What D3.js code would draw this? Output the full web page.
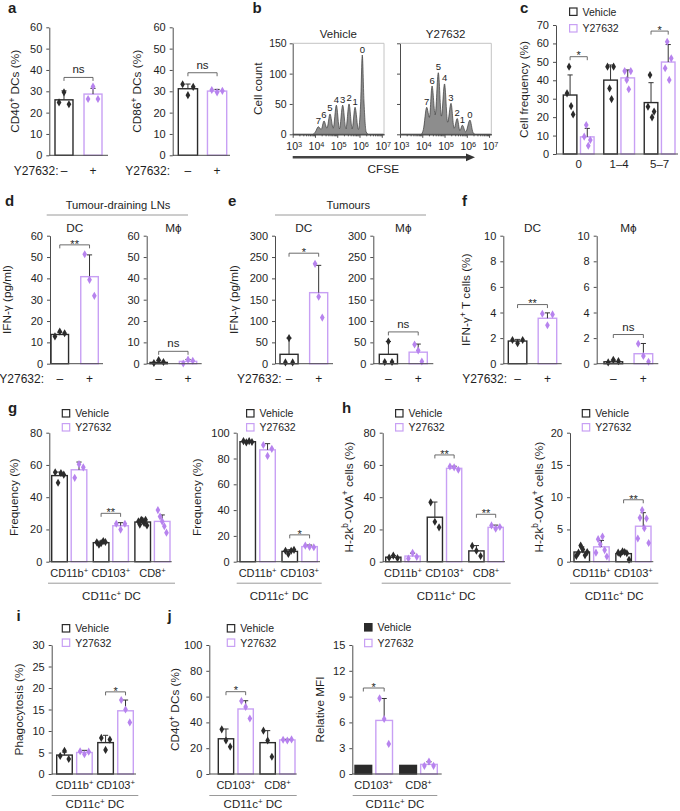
<!DOCTYPE html>
<html>
<head>
<meta charset="utf-8">
<script src="https://cdn.jsdelivr.net/npm/d3@7"></script>
<style>
  body { margin: 0; background: #fff; }
  svg { font-family: "Liberation Sans", Arial, Helvetica, sans-serif; }
</style>
</head>
<body>
<svg id="fig" width="680" height="811"></svg>
<script>
// ---- data ----
// a: CD40+ / CD86+ DCs (%), [vehicle, Y27632]
const a1Mean = [[26, 28.7]], a1Err = [[4.2, 2.7]];
const a1Pts = [[[24.8, 29.5, 23.9], [26.4, 32.2, 26.4]]];
const a1Sig = [[0, 36.5, "ns"]];
const a2Mean = [[31.2, 30.1]], a2Err = [[2.2, 0.8]];
const a2Pts = [[[33.3, 28.2, 32.1], [30.6, 29.5, 30.2]]];
const a2Sig = [[0, 38.7, "ns"]];

// b: CFSE histograms, [log10 CFSE, cell count, division]
const cfseExp = [3, 4, 5, 6, 7];
const vehPeaks = [[4.15, 12.5, "7"], [4.405, 22, "6"], [4.675, 33.5, "5"], [4.96, 48, "4"],
  [5.245, 48, "3"], [5.53, 50, "2"], [5.8, 44.5, "1"], [6.125, 130.7, "0"]];
const vehOutline = [[3, 0], [3.9, 0], [4.02, 4], [4.28, 8], [4.54, 10], [4.82, 10], [5.1, 9],
  [5.39, 9], [5.67, 9], [5.95, 8], [6.05, 50], [6.2, 55], [6.3, 4], [6.4, 0], [7.1, 0]];
const y27Peaks = [[4.2, 44.5, "7"], [4.44, 79.6, "6"], [4.72, 101.5, "5"], [5.0, 83, "4"],
  [5.29, 51, "3"], [5.57, 26, "2"], [5.8, 15, "1"], [6.14, 23.5, "0"]];
const y27Outline = [[3, 0], [3.95, 0], [4.05, 8], [4.32, 28], [4.58, 32], [4.86, 30], [5.14, 20],
  [5.43, 10], [5.69, 6], [5.95, 4], [6.28, 3], [6.38, 0], [7.1, 0]];

// c: cell frequency by division
const cGroups = ["0", "1–4", "5–7"];
const cMean = [[32, 9.3], [40.1, 41.3], [27.9, 49.9]];
const cErr = [[10.9, 4.6], [8.2, 4.3], [10.8, 9.5]];
const cPts = [[[32.9, 47.4, 26, 21.5], [9.4, 15.7, 4.5, 7.6]],
  [[47.4, 35.6, 29.8, 47.4], [45, 40.2, 35.1, 45]],
  [[25.7, 42.9, 19.9, 23], [46.5, 60.9, 40.2, 51.9]]];
const cSig = [[0, 52.8, "*"], [2, 66.7, "*"]];

// d: IFN-γ (pg/ml), tumour-draining LNs
const d1Mean = [[13.7, 40.8]], d1Err = [[1.0, 10.2]];
const d1Pts = [[[12.8, 15.1, 14.3], [51.3, 39.3, 31.8]]];
const d1Sig = [[0, 55.7, "**"]];
const d2Mean = [[0.6, 1.1]], d2Err = [[0.8, 0.9]];
const d2Pts = [[[0.3, 1.7, 0.8], [0.1, 1.9, 1.4]]];
const d2Sig = [[0, 5.8, "ns"]];

// e: IFN-γ (pg/ml), tumours
const e1Mean = [[22, 166.5]], e1Err = [[38, 64]];
const e1Pts = [[[3, 60, 3], [234, 157, 108]]];
const e1Sig = [[0, 259, "*"]];
const e2Mean = [[22, 27]], e2Err = [[30, 19]];
const e2Pts = [[[4, 52, 4], [45, 31, 5]]];
const e2Sig = [[0, 74.5, "ns"]];

// f: IFN-γ+ T cells (%)
const f1Mean = [[1.77, 3.55]], f1Err = [[0.13, 0.42]];
const f1Pts = [[[1.85, 1.6, 1.85], [3.9, 3.0, 3.85]]];
const f1Sig = [[0, 4.62, "**"]];
const f2Mean = [[0.15, 0.78]], f2Err = [[0.12, 0.8]];
const f2Pts = [[[0.1, 0.3, 0.2], [1.56, 0.6, 0.15]]];
const f2Sig = [[0, 2.28, "ns"]];

// g: frequency (%)
const dcGroups3 = ["CD11b^+", "CD103^+", "CD8^+"];
const dcGroups2 = ["CD11b^+", "CD103^+"];
const g1Mean = [[53.4, 57], [11.8, 22.3], [24.6, 25]];
const g1Err = [[2.2, 4.8], [1.0, 1.9], [1.5, 4]];
const g1Pts = [[[55.5, 49, 55, 54], [52, 60.5, 58.5]],
  [[12, 10.5, 11.5, 12.8, 12.2], [23.5, 19.9, 23.5]],
  [[25, 23, 26, 25.5, 24, 26, 22.5], [32, 28, 25, 22, 18]]];
const g1Sig = [[1, 30, "**"]];
const g2Mean = [[93, 86.7], [8, 11.7]];
const g2Err = [[0.6, 4.8], [1.3, 1.2]];
const g2Pts = [[[93.5, 92.5, 93.5, 92.8], [90.5, 82, 87.5]], [[8.5, 6, 8.5, 9.2], [12.5, 11.5, 11.2]]];
const g2Sig = [[1, 20.8, "*"]];

// h: H-2kb-OVA+ cells (%)
const h1Mean = [[2.8, 3.5], [27.6, 57.9], [6.7, 21.3]];
const h1Err = [[1.0, 1.8], [9.4, 1.3], [3.3, 1.4]];
const h1Pts = [[[2.5, 3.8, 2.2], [2, 5.5, 3]],
  [[36.8, 24.8, 21.3], [59, 58.5, 57]],
  [[9.8, 6.8, 3.5], [22.5, 20.5, 21.5]]];
const h1Sig = [[1, 66.2, "**"], [2, 29.4, "**"]];
const h2Mean = [[1.5, 2.3], [1.25, 5.5]];
const h2Err = [[0.8, 1.0], [0.35, 2.1]];
const h2Pts = [[[0.9, 1.4, 2.5, 1.9, 1.0, 1.5], [1.4, 3.5, 2.7, 3.9, 1.8, 0.8]],
  [[1.4, 1.2, 1.6, 1.5, 1.3, 0.3], [3.6, 6.8, 8.0, 5.2, 6.7, 2.9]]];
const h2Sig = [[1, 9.6, "**"]];

// i: phagocytosis (%)
const iMean = [[4.4, 5.0], [7.3, 14.7]];
const iErr = [[0.7, 0.5], [1.7, 2.5]];
const iPts = [[[4.2, 5.4, 3.5], [5.3, 4.6, 5.2]], [[8.4, 5.6, 8.0], [17.2, 15, 12]]];
const iSig = [[1, 19.1, "*"]];

// j: CD40+ DCs (%) and relative MFI
const jGroups = ["CD103^+", "CD8^+"];
const j1Mean = [[27.3, 50.4], [24.3, 26.4]];
const j1Err = [[7.6, 6.4], [9.3, 0.5]];
const j1Pts = [[[34.6, 26, 21.2], [56.6, 52, 43]], [[33.6, 26, 13.4], [26.5, 26, 26.8]]];
const j1Sig = [[0, 63.8, "*"]];
const j2Mean = [[1, 6.23], [1, 1.12]];
const j2Err = [[0, 2.55], [0, 0.3]];
const j2Pts = [[[], [8.8, 6.4, 3.5]], [[], [0.95, 1.45, 0.95]]];
const j2Sig = [[0, 10, "*"]];

// ---- drawing ----
const svg = d3.select("#fig");
const FS = 11, TITLE = 11.8, CAT = 12, GRP = 11;
const INK = "#1e1e1e", AXIS = "#4d4d4d", VEH = "#2b2b2b", Y27 = "#c8a0f4", Y27PT = "#b783ee";
const ERR = "#333", BRK = "#5a5a5a", RULE = "#9a9a9a";
const diamond = d3.symbol().type(d3.symbolDiamond).size(19)();

// "^x" puts x in superscript
function rich(t, str, fs) {
  const sh = fs * 0.36;
  let up = false;
  str.split(/(\^.)/).forEach(p => {
    if (!p) return;
    if (p[0] === "^") {
      t.append("tspan").attr("font-size", fs * 0.7).attr("dy", up ? 0 : -sh).text(p[1]);
      up = true;
    } else {
      t.append("tspan").attr("dy", up ? sh : 0).text(p);
      up = false;
    }
  });
  return t;
}

function label(x, y, str, opts = {}) {
  const fs = opts.fs || FS;
  const t = svg.append("text").attr("x", x).attr("y", y)
    .attr("font-size", fs).attr("fill", INK)
    .attr("text-anchor", opts.anchor || "middle");
  if (opts.weight) t.attr("font-weight", opts.weight);
  return rich(t, str, fs);
}

function yTitle(x, yMid, str) {
  const t = svg.append("text")
    .attr("transform", `translate(${x + TITLE * 0.36},${yMid}) rotate(-90)`)
    .attr("font-size", TITLE).attr("fill", INK).attr("text-anchor", "middle");
  rich(t, str, TITLE);
}

function legend(x, y, gap, filled) {
  [["Vehicle", VEH], ["Y27632", Y27]].forEach(([name, col], i) => {
    const cy = y + i * gap;
    svg.append("rect").attr("x", x + 0.6).attr("y", cy - 3.7)
      .attr("width", 7.4).attr("height", 7.4)
      .attr("fill", filled && i === 0 ? VEH : "#fff")
      .attr("stroke", col).attr("stroke-width", 1.2);
    label(x + 13.5, cy + 3.8, name, { anchor: "start", fs: 10.5 });
  });
}

function styleAxis(ax, fs) {
  ax.attr("font-size", fs || FS).attr("font-family", null);
  ax.selectAll("line,.domain").attr("stroke", AXIS);
  ax.selectAll("text").attr("fill", INK);
}

function barChart(c) {
  const y = d3.scaleLinear().domain([0, c.max]).range([c.bottom, c.top]);
  const gx = d3.scaleBand().domain(d3.range(c.mean.length)).range([c.b0, c.b1]).paddingInner(c.gPad || 0);
  const sx = d3.scaleBand().domain([0, 1]).range([0, gx.bandwidth()]).paddingInner(c.sPad);
  const bw = sx.bandwidth();
  const cx = (gi, si) => gx(gi) + sx(si) + bw / 2;

  styleAxis(svg.append("g").attr("transform", `translate(${c.x0},0)`)
    .call(d3.axisLeft(y).tickValues(c.ticks).tickSize(3).tickSizeOuter(0).tickPadding(4)));

  const marks = svg.append("g");
  c.mean.forEach((row, gi) => row.forEach((m, si) => {
    marks.append("rect").attr("x", gx(gi) + sx(si)).attr("width", bw)
      .attr("y", y(m)).attr("height", y(0) - y(m))
      .attr("fill", c.filled && si === 0 ? VEH : "#fff")
      .attr("stroke", si ? Y27 : VEH).attr("stroke-width", 1.4);
    const e = c.err[gi][si], x = cx(gi, si);
    if (e > 0) {
      marks.append("path")
        .attr("d", `M${x},${y(m)}V${y(m + e)}M${x - 2.6},${y(m + e)}H${x + 2.6}`)
        .attr("stroke", ERR).attr("stroke-width", 1).attr("fill", "none");
    }
    const pts = c.pts[gi][si], n = pts.length;
    pts.forEach((v, k) => {
      const off = n > 1 ? (k / (n - 1) - 0.5) * bw * (c.spread || 0.55) : 0;
      marks.append("path").attr("d", diamond)
        .attr("transform", `translate(${x + off},${y(v)})`)
        .attr("fill", si ? Y27PT : VEH);
    });
  }));

  svg.append("line").attr("x1", c.x0).attr("x2", c.x1)
    .attr("y1", c.bottom).attr("y2", c.bottom).attr("stroke", AXIS);

  (c.sig || []).forEach(([gi, lv, txt]) => {
    const x1 = cx(gi, 0), x2 = cx(gi, 1), yy = y(lv);
    svg.append("path").attr("d", `M${x1},${yy + 3.5}V${yy}H${x2}V${yy + 3.5}`)
      .attr("fill", "none").attr("stroke", BRK).attr("stroke-width", 0.9);
    label((x1 + x2) / 2, txt === "ns" ? yy - 4 : yy + 2.8, txt, { fs: txt === "ns" ? 11.5 : 11 });
  });

  if (c.treat) {
    label(cx(0, 0), c.bottom + 19.4, "–", { fs: CAT });
    label(cx(0, 1), c.bottom + 19.4, "+", { fs: CAT });
    if (c.treatX) label(c.treatX, c.bottom + 19.4, "Y27632:", { anchor: "end", fs: CAT });
  }
  if (c.groups) {
    c.groups.forEach((gname, gi) =>
      label(gx(gi) + gx.bandwidth() / 2, c.bottom + (c.groupDy || 15.3), gname, { fs: c.groupFs || GRP }));
  }
  if (c.rule) {
    svg.append("line").attr("x1", c.rule[0]).attr("x2", c.rule[1])
      .attr("y1", c.bottom + 21.5).attr("y2", c.bottom + 21.5).attr("stroke", RULE);
    label((c.rule[0] + c.rule[1]) / 2, c.bottom + (c.titleDy || 38), "CD11c^+ DC", { fs: 11.5 });
  }
  if (c.head) label((c.b0 + c.b1) / 2, c.headY, c.head, { fs: 11.8 });
  if (c.yLabel) yTitle(c.yLabelX, (c.top + c.bottom) / 2, c.yLabel);
}

function cfsePanel(x0, title, peaks, outline, showY) {
  const w = 91.3, top = 43.3, bottom = 134.3;
  const x = d3.scaleLog().domain([1e3, 10 ** 7.1]).range([x0, x0 + w]);
  const y = d3.scaleLinear().domain([0, 150]).range([bottom, top]);
  const pts = outline.concat(peaks.map(p => [p[0], p[1]])).sort((p, q) => p[0] - q[0]);
  const area = d3.area().x(d => x(10 ** d[0])).y0(bottom).y1(d => y(d[1])).curve(d3.curveMonotoneX);
  svg.append("path").datum(pts).attr("d", area)
    .attr("fill", "#8d8d8d").attr("stroke", "#3a3a3a").attr("stroke-width", 0.7);
  svg.append("path").attr("d", `M${x0},${top}H${x0 + w}V${bottom}`)
    .attr("fill", "none").attr("stroke", "#c4c4c4");

  styleAxis(svg.append("g").attr("transform", `translate(${x0},0)`)
    .call(d3.axisLeft(y).tickValues([0, 50, 100, 150]).tickSize(3).tickSizeOuter(0).tickPadding(3)
      .tickFormat(showY ? d3.format("d") : "")), 10.5);

  const major = cfseExp.map(e => 10 ** e);
  const minor = [];
  cfseExp.slice(0, -1).forEach(e => d3.range(2, 10).forEach(m => minor.push(m * 10 ** e)));
  const bx = svg.append("g").attr("transform", `translate(0,${bottom})`);
  styleAxis(bx.append("g").call(d3.axisBottom(x).tickValues(minor).tickSize(2).tickSizeOuter(0).tickFormat("")));
  styleAxis(bx.append("g").call(d3.axisBottom(x).tickValues(major).tickSize(3.5).tickSizeOuter(0).tickFormat("")));
  cfseExp.forEach(e => label(x(10 ** e) + 1.5, bottom + 16, "10^" + e, { fs: 10.5 }));

  peaks.forEach(p => label(x(10 ** p[0]), y(p[1]) - 2.5, p[2], { fs: 9.5 }));
  label(x0 + w / 2, 38.3, title, { fs: 11.5 });
}

// panel letters
[["a", 8, 13], ["b", 252.5, 12.7], ["c", 520, 12.7], ["d", 5, 205.5], ["e", 228, 206],
 ["f", 462, 206], ["g", 8, 413], ["h", 342, 413], ["i", 16.5, 620.5], ["j", 167.5, 620.5]]
  .forEach(([t, x, y]) => label(x, y, t, { anchor: "start", fs: 15, weight: "bold" }));

// a
const pct60 = d3.range(0, 61, 10);
barChart({ x0: 49.3, x1: 108, b0: 55, b1: 102, sPad: 0.38, top: 27.3, bottom: 155.3, max: 60, ticks: pct60,
  mean: a1Mean, err: a1Err, pts: a1Pts, sig: a1Sig, treat: true, treatX: 58.5,
  yLabel: "CD40^+ DCs (%)", yLabelX: 15 });
barChart({ x0: 172.7, x1: 230, b0: 178.3, b1: 226.7, sPad: 0.34, top: 27.3, bottom: 155.3, max: 60, ticks: pct60,
  mean: a2Mean, err: a2Err, pts: a2Pts, sig: a2Sig, treat: true, treatX: 170,
  yLabel: "CD86^+ DCs (%)", yLabelX: 136.7 });

// b
cfsePanel(292.7, "Vehicle", vehPeaks, vehOutline, true);
cfsePanel(400, "Y27632", y27Peaks, y27Outline, false);
yTitle(258, 88.8, "Cell count");
svg.append("line").attr("x1", 292.7).attr("x2", 467).attr("y1", 157.3).attr("y2", 157.3)
  .attr("stroke", "#444").attr("stroke-width", 2.6);
svg.append("path").attr("d", "M466,153.4L475,157.3L466,161.2Z").attr("fill", "#333");
label(383.3, 172.5, "CFSE", { fs: 11.8 });

// c
legend(569, 11.7, 16.6, false);
barChart({ x0: 556, x1: 678, b0: 563.3, b1: 675, gPad: 0.24, sPad: 0.21, top: 25, bottom: 154, max: 70,
  ticks: d3.range(0, 71, 10), mean: cMean, err: cErr, pts: cPts, sig: cSig,
  groups: cGroups, groupDy: 14, groupFs: 11.5, spread: 0.45,
  yLabel: "Cell frequency (%)", yLabelX: 524 });

// d
label(118, 208.5, "Tumour-draining LNs", { fs: 11.2 });
svg.append("line").attr("x1", 46.7).attr("x2", 188).attr("y1", 215).attr("y2", 215).attr("stroke", RULE);
barChart({ x0: 50, x1: 103, b0: 51, b1: 98.3, sPad: 0.41, top: 235.7, bottom: 363.7, max: 60, ticks: pct60,
  mean: d1Mean, err: d1Err, pts: d1Pts, sig: d1Sig, treat: true, treatX: 44,
  head: "DC", headY: 231.7, yLabel: "IFN-γ (pg/ml)", yLabelX: 6.7 });
barChart({ x0: 146.7, x1: 201.7, b0: 150, b1: 196.7, sPad: 0.41, top: 235.7, bottom: 363.7, max: 60, ticks: pct60,
  mean: d2Mean, err: d2Err, pts: d2Pts, sig: d2Sig, treat: true,
  head: "M\u03D5", headY: 231.7 });

// e
label(348.3, 208.5, "Tumours", { fs: 11.2 });
svg.append("line").attr("x1", 275).attr("x2", 426).attr("y1", 215).attr("y2", 215).attr("stroke", RULE);
const pg300 = d3.range(0, 301, 50);
barChart({ x0: 275, x1: 333, b0: 280, b1: 327.7, sPad: 0.39, top: 235.7, bottom: 363.7, max: 300, ticks: pg300,
  mean: e1Mean, err: e1Err, pts: e1Pts, sig: e1Sig, treat: true, treatX: 281.7, spread: 0.4,
  head: "DC", headY: 231.7, yLabel: "IFN-γ (pg/ml)", yLabelX: 233.5 });
barChart({ x0: 373.3, x1: 433.3, b0: 379.3, b1: 427.3, sPad: 0.39, top: 235.7, bottom: 363.7, max: 300, ticks: pg300,
  mean: e2Mean, err: e2Err, pts: e2Pts, sig: e2Sig, treat: true, spread: 0.4,
  head: "M\u03D5", headY: 231.7 });

// f
const pct10 = d3.range(0, 11, 2);
barChart({ x0: 503.3, x1: 561.7, b0: 508.3, b1: 556.7, sPad: 0.38, top: 235.7, bottom: 363.7, max: 10, ticks: pct10,
  mean: f1Mean, err: f1Err, pts: f1Pts, sig: f1Sig, treat: true, treatX: 507,
  head: "DC", headY: 231.7, yLabel: "IFN-γ^+ T cells (%)", yLabelX: 466 });
barChart({ x0: 596.7, x1: 658.3, b0: 604, b1: 652.7, sPad: 0.38, top: 235.7, bottom: 363.7, max: 10, ticks: pct10,
  mean: f2Mean, err: f2Err, pts: f2Pts, sig: f2Sig, treat: true,
  head: "M\u03D5", headY: 231.7 });

// g
legend(61.7, 413.3, 14, false);
barChart({ x0: 49.3, x1: 171.7, b0: 51.7, b1: 170, gPad: 0.156, sPad: 0.2, top: 432.7, bottom: 561.7, max: 80,
  ticks: d3.range(0, 81, 20), mean: g1Mean, err: g1Err, pts: g1Pts, sig: g1Sig,
  groups: dcGroups3, rule: [48, 175], yLabel: "Frequency (%)", yLabelX: 13.3 });
legend(246, 413.3, 14, false);
barChart({ x0: 236.7, x1: 320, b0: 240, b1: 317.3, gPad: 0.16, sPad: 0.22, top: 432.7, bottom: 561.7, max: 100,
  ticks: d3.range(0, 101, 20), mean: g2Mean, err: g2Err, pts: g2Pts, sig: g2Sig,
  groups: dcGroups2, rule: [236.7, 321.7], yLabel: "Frequency (%)", yLabelX: 196.7 });

// h
legend(395, 413.3, 14, false);
barChart({ x0: 382.7, x1: 505, b0: 385.7, b1: 503.3, gPad: 0.17, sPad: 0.21, top: 432.7, bottom: 561.7, max: 80,
  ticks: d3.range(0, 81, 20), mean: h1Mean, err: h1Err, pts: h1Pts, sig: h1Sig,
  groups: dcGroups3, rule: [381.7, 510.7], yLabel: "H-2k^b-OVA^+ cells (%)", yLabelX: 348.3 });
legend(581.7, 413.3, 14, false);
barChart({ x0: 570, x1: 653.3, b0: 574, b1: 651, gPad: 0.16, sPad: 0.21, top: 432.7, bottom: 561.7, max: 20,
  ticks: d3.range(0, 21, 5), mean: h2Mean, err: h2Err, pts: h2Pts, sig: h2Sig, spread: 0.7,
  groups: dcGroups2, rule: [570, 658.3], yLabel: "H-2k^b-OVA^+ cells (%)", yLabelX: 538.3 });

// i
legend(61.7, 628.3, 14.4, false);
barChart({ x0: 51.7, x1: 136, b0: 56.7, b1: 133.3, gPad: 0.136, sPad: 0.22, top: 645, bottom: 774, max: 30,
  ticks: d3.range(0, 31, 5), mean: iMean, err: iErr, pts: iPts, sig: iSig,
  groups: dcGroups2, rule: [51.7, 138.3], titleDy: 34, yLabel: "Phagocytosis (%)", yLabelX: 18.3 });

// j
legend(226.7, 628.3, 14.4, false);
barChart({ x0: 209.3, x1: 296.7, b0: 218.3, b1: 295, gPad: 0.16, sPad: 0.22, top: 645, bottom: 774, max: 100,
  ticks: d3.range(0, 101, 20), mean: j1Mean, err: j1Err, pts: j1Pts, sig: j1Sig,
  groups: jGroups, rule: [209.3, 296.7], titleDy: 34, yLabel: "CD40^+ DCs (%)", yLabelX: 175 });
legend(364, 627.3, 15.7, true);
barChart({ x0: 352.3, x1: 441.7, b0: 355, b1: 437.3, gPad: 0.163, sPad: 0.2, top: 645, bottom: 774, max: 15,
  ticks: d3.range(0, 16, 3), mean: j2Mean, err: j2Err, pts: j2Pts, sig: j2Sig, filled: true,
  groups: jGroups, rule: [352.7, 437.3], titleDy: 34, yLabel: "Relative MFI", yLabelX: 320 });
</script>
</body>
</html>
